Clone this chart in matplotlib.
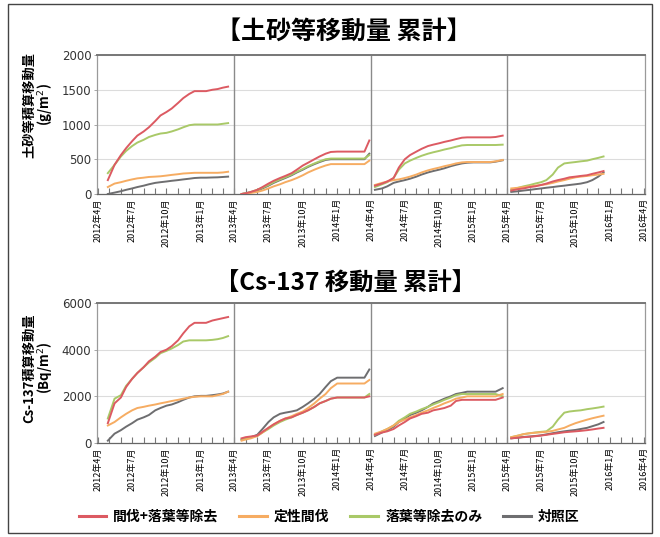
import matplotlib
matplotlib.use("Agg")
import matplotlib.pyplot as plt
import matplotlib.dates as mdates
from matplotlib.patches import Rectangle
import numpy as np
import datetime as dt

plt.rcParams['font.family'] = ['Noto Sans CJK JP', 'DejaVu Sans']

series_names = ["間伐+落葉等除去", "定性間伐", "落葉等除去のみ", "対照区"]
colors = ["#dc5a62", "#f6ac62", "#a9c968", "#6e6e70"]

# ---- dates per monitoring year ----
dates_y1 = ["2012-04-27", "2012-05-15", "2012-06-01", "2012-06-15", "2012-07-01", "2012-07-15",
            "2012-08-01", "2012-08-15", "2012-09-01", "2012-09-15", "2012-10-01", "2012-10-15",
            "2012-11-01", "2012-11-15", "2012-12-01", "2012-12-15", "2013-01-01", "2013-01-15",
            "2013-02-01", "2013-02-15", "2013-03-01", "2013-03-15"]
dates_y2 = ["2013-04-20", "2013-05-01", "2013-05-15", "2013-06-01", "2013-06-15", "2013-07-01",
            "2013-07-15", "2013-08-01", "2013-08-15", "2013-09-01", "2013-09-15", "2013-10-01",
            "2013-10-15", "2013-11-01", "2013-11-15", "2013-12-01", "2013-12-15", "2014-01-01",
            "2014-01-15", "2014-02-01", "2014-02-15", "2014-03-01", "2014-03-15", "2014-03-28"]
dates_y3 = ["2014-04-12", "2014-05-01", "2014-05-15", "2014-06-01", "2014-06-15", "2014-07-01",
            "2014-07-15", "2014-08-01", "2014-08-15", "2014-09-01", "2014-09-15", "2014-10-01",
            "2014-10-15", "2014-11-01", "2014-11-15", "2014-12-01", "2014-12-15", "2015-01-01",
            "2015-01-15", "2015-02-01", "2015-02-15", "2015-03-01", "2015-03-20"]
dates_y4 = ["2015-04-12", "2015-05-01", "2015-05-15", "2015-06-01", "2015-06-15", "2015-07-01",
            "2015-07-15", "2015-08-01", "2015-08-15", "2015-09-01", "2015-09-15", "2015-10-01",
            "2015-10-15", "2015-11-01", "2015-11-15", "2015-12-01", "2015-12-15"]

# ---- soil movement (g/m2), cumulative per year ----
soil_red_y1 = [200, 420, 560, 660, 760, 840, 900, 960, 1050, 1130, 1180, 1230, 1310, 1380, 1440, 1480, 1480, 1480, 1500, 1510, 1530, 1545]
soil_orange_y1 = [100, 150, 170, 190, 210, 225, 235, 245, 250, 255, 265, 275, 285, 295, 300, 305, 305, 305, 305, 305, 310, 320]
soil_green_y1 = [300, 420, 540, 620, 690, 740, 780, 820, 850, 870, 880, 900, 930, 960, 990, 1000, 1000, 1000, 1000, 1000, 1010, 1020]
soil_gray_y1 = [0, 20, 40, 60, 80, 100, 120, 140, 160, 170, 180, 190, 200, 210, 220, 230, 235, 235, 238, 240, 245, 250]

soil_red_y2 = [0, 10, 30, 60, 100, 150, 190, 230, 260, 300, 350, 410, 450, 500, 540, 580, 605, 610, 610, 610, 610, 610, 610, 770]
soil_orange_y2 = [0, 5, 15, 30, 50, 80, 110, 140, 170, 200, 230, 270, 310, 350, 380, 410, 430, 430, 430, 430, 430, 430, 430, 480]
soil_green_y2 = [0, 10, 30, 60, 90, 130, 170, 210, 240, 280, 320, 360, 400, 440, 470, 500, 510, 510, 510, 510, 510, 510, 510, 560]
soil_gray_y2 = [0, 10, 25, 50, 80, 120, 160, 200, 230, 270, 310, 350, 390, 430, 460, 490, 500, 500, 500, 500, 500, 500, 500, 580]

soil_red_y3 = [120, 150, 180, 230, 380, 500, 560, 610, 650, 690, 710, 730, 750, 770, 790, 810, 815, 815, 815, 815, 815, 820, 840]
soil_orange_y3 = [130, 160, 180, 200, 210, 230, 250, 280, 310, 340, 360, 380, 400, 420, 440, 455, 460, 460, 460, 460, 460, 470, 490]
soil_green_y3 = [100, 140, 170, 230, 350, 440, 480, 520, 550, 580, 600, 620, 640, 660, 680, 700, 705, 705, 705, 705, 705, 705, 710]
soil_gray_y3 = [60, 80, 110, 160, 180, 200, 220, 250, 280, 310, 330, 350, 370, 400, 420, 440, 450, 455, 455, 455, 455, 465, 485]

soil_red_y4 = [50, 70, 80, 100, 110, 130, 150, 180, 200, 220, 240, 250, 260, 270, 290, 310, 330]
soil_orange_y4 = [80, 90, 100, 110, 120, 130, 140, 160, 180, 200, 220, 240, 250, 260, 270, 280, 290]
soil_green_y4 = [60, 90, 110, 130, 150, 170, 200, 280, 380, 440, 450, 460, 470, 480, 500, 520, 540]
soil_gray_y4 = [30, 40, 50, 60, 70, 80, 90, 100, 110, 120, 130, 140, 150, 170, 200, 250, 310]

# ---- Cs-137 movement (Bq/m2), cumulative per year ----
cs_red_y1 = [850, 1700, 1950, 2400, 2750, 3000, 3250, 3500, 3700, 3900, 4000, 4150, 4400, 4700, 5000, 5150, 5150, 5150, 5250, 5300, 5350, 5400]
cs_orange_y1 = [750, 900, 1100, 1250, 1400, 1500, 1550, 1600, 1650, 1700, 1750, 1800, 1850, 1900, 1950, 1980, 2000, 2000, 2000, 2050, 2100, 2200]
cs_green_y1 = [1050, 1900, 2050, 2450, 2750, 3000, 3250, 3450, 3650, 3850, 3950, 4050, 4200, 4350, 4400, 4400, 4400, 4400, 4420, 4450, 4500, 4580]
cs_gray_y1 = [100, 400, 550, 700, 850, 1000, 1100, 1200, 1400, 1500, 1600, 1650, 1750, 1850, 1950, 2000, 2020, 2020, 2050, 2080, 2120, 2200]

cs_red_y2 = [200, 250, 280, 320, 480, 650, 800, 950, 1050, 1100, 1200, 1300, 1400, 1550, 1700, 1800, 1900, 1950, 1950, 1950, 1950, 1950, 1950, 2000]
cs_orange_y2 = [100, 150, 200, 300, 450, 650, 800, 950, 1050, 1150, 1250, 1350, 1500, 1700, 1900, 2100, 2350, 2550, 2550, 2550, 2550, 2550, 2550, 2700]
cs_green_y2 = [150, 200, 250, 300, 450, 600, 750, 900, 1000, 1100, 1200, 1300, 1400, 1550, 1700, 1800, 1900, 1950, 1950, 1950, 1950, 1950, 1950, 2100]
cs_gray_y2 = [150, 200, 250, 350, 600, 900, 1100, 1250, 1300, 1350, 1400, 1550, 1700, 1900, 2100, 2400, 2650, 2800, 2800, 2800, 2800, 2800, 2800, 3150]

cs_red_y3 = [350, 450, 500, 600, 750, 900, 1050, 1150, 1250, 1300, 1400, 1450, 1500, 1600, 1800, 1850, 1850, 1850, 1850, 1850, 1850, 1850, 1950]
cs_orange_y3 = [400, 500, 600, 750, 900, 1000, 1100, 1200, 1300, 1400, 1500, 1600, 1700, 1800, 1900, 1950, 2000, 2000, 2000, 2000, 2000, 2000, 2100]
cs_green_y3 = [350, 500, 600, 750, 950, 1100, 1250, 1350, 1450, 1550, 1650, 1750, 1850, 1950, 2050, 2100, 2100, 2100, 2100, 2100, 2100, 2100, 2000]
cs_gray_y3 = [300, 450, 550, 700, 900, 1050, 1200, 1300, 1400, 1550, 1700, 1800, 1900, 2000, 2100, 2150, 2200, 2200, 2200, 2200, 2200, 2200, 2350]

cs_red_y4 = [200, 230, 250, 270, 290, 320, 350, 390, 420, 460, 480, 500, 520, 550, 580, 620, 650]
cs_orange_y4 = [250, 320, 380, 420, 440, 460, 480, 520, 580, 650, 750, 850, 920, 1000, 1060, 1120, 1170]
cs_green_y4 = [250, 320, 380, 420, 450, 480, 500, 700, 1000, 1300, 1350, 1380, 1400, 1450, 1480, 1520, 1560]
cs_gray_y4 = [200, 230, 260, 280, 300, 330, 370, 420, 460, 500, 530, 560, 600, 650, 720, 800, 900]

soil_data = [
    [soil_red_y1, soil_red_y2, soil_red_y3, soil_red_y4],
    [soil_orange_y1, soil_orange_y2, soil_orange_y3, soil_orange_y4],
    [soil_green_y1, soil_green_y2, soil_green_y3, soil_green_y4],
    [soil_gray_y1, soil_gray_y2, soil_gray_y3, soil_gray_y4],
]
cs_data = [
    [cs_red_y1, cs_red_y2, cs_red_y3, cs_red_y4],
    [cs_orange_y1, cs_orange_y2, cs_orange_y3, cs_orange_y4],
    [cs_green_y1, cs_green_y2, cs_green_y3, cs_green_y4],
    [cs_gray_y1, cs_gray_y2, cs_gray_y3, cs_gray_y4],
]
year_dates = [dates_y1, dates_y2, dates_y3, dates_y4]
separators = ["2013-04-01", "2014-04-01", "2015-04-01"]

soil_title = "【土砂等移動量 累計】"
cs_title = "【Cs-137 移動量 累計】"
soil_ylabel = "土砂等積算移動量\n(g/m$^2$)"
cs_ylabel = "Cs-137積算移動量\n(Bq/m$^2$)"
soil_yticks = [0, 500, 1000, 1500, 2000]
cs_yticks = [0, 2000, 4000, 6000]

W, H = 660, 537
fig = plt.figure(figsize=(W / 100, H / 100), dpi=100)
fig.patch.set_facecolor("white")
fig.patches.append(Rectangle((8 / W, 4 / H), 644 / W, 529 / H, transform=fig.transFigure,
                             fill=False, edgecolor="#444444", linewidth=1.0))

def to_dt(s):
    return dt.datetime.strptime(s, "%Y-%m-%d")

def month_fmt(x, pos=None):
    d = mdates.num2date(x)
    return f"{d.year}年{d.month}月"

def make_axes(rect, data, yticks, ylabel, ylabel_y):
    ax = fig.add_axes(rect)
    for si, seriesyears in enumerate(data):
        for yi, vals in enumerate(seriesyears):
            ax.plot([to_dt(s) for s in year_dates[yi]], vals, color=colors[si], lw=1.4,
                    solid_joinstyle="round", zorder=3 + (3 - si) * 0.1)
    for s in separators:
        ax.axvline(to_dt(s), color="#8a8a8a", lw=1.0, zorder=2)
    ax.set_xlim(to_dt("2012-03-29"), to_dt("2016-04-04"))
    ax.set_ylim(yticks[0], yticks[-1])
    ax.set_yticks(yticks)
    ax.yaxis.grid(True, color="#dcdcdc", lw=0.8)
    ax.set_axisbelow(True)
    ax.xaxis.set_major_locator(mdates.MonthLocator(bymonth=[1, 4, 7, 10]))
    ax.xaxis.set_minor_locator(mdates.MonthLocator())
    ax.xaxis.set_major_formatter(plt.FuncFormatter(month_fmt))
    ax.tick_params(axis="x", which="both", direction="in", length=4, width=0.8, color="#777777",
                   labelsize=6.5, rotation=90, pad=3)
    ax.tick_params(axis="y", which="both", direction="out", length=2, width=0.6, color="#999999",
                   labelsize=8.5, pad=2)
    for lab in ax.get_yticklabels():
        lab.set_family(["Liberation Sans Narrow", "DejaVu Sans"])
        lab.set_color("#333333")
    for sp in ["left", "right", "bottom"]:
        ax.spines[sp].set_color("#9a9a9a")
        ax.spines[sp].set_linewidth(0.9)
    ax.spines["top"].set_color("#777777")
    ax.spines["top"].set_linewidth(1.4)
    ax.spines["bottom"].set_color("#666666")
    fig.text(38 / W, ylabel_y, ylabel, rotation=90, ha="center", va="center",
             fontsize=9.5, fontweight="bold", linespacing=0.95)
    return ax

ax1 = make_axes([97 / W, 1 - 194 / H, 548 / W, 139 / H], soil_data, soil_yticks, soil_ylabel, 1 - 105 / H)
ax2 = make_axes([97 / W, 1 - 443 / H, 548 / W, 140 / H], cs_data, cs_yticks, cs_ylabel, 1 - 368 / H)

fig.text(344 / W, 1 - 32 / H, soil_title, ha="center", va="center", fontsize=18, fontweight="bold")
fig.text(345 / W, 1 - 284 / H, cs_title, ha="center", va="center", fontsize=17.5, fontweight="bold")

handles = [plt.Line2D([], [], color=c, lw=2.2) for c in colors]
leg = fig.legend(handles, series_names, loc="center", bbox_to_anchor=(329 / W, 1 - 517 / H),
                 ncol=4, frameon=False, handlelength=2.0, handletextpad=0.5, columnspacing=1.5,
                 prop={"family": ["Noto Sans CJK JP"], "size": 10, "weight": "bold"})

fig.savefig("out.png", dpi=100)
